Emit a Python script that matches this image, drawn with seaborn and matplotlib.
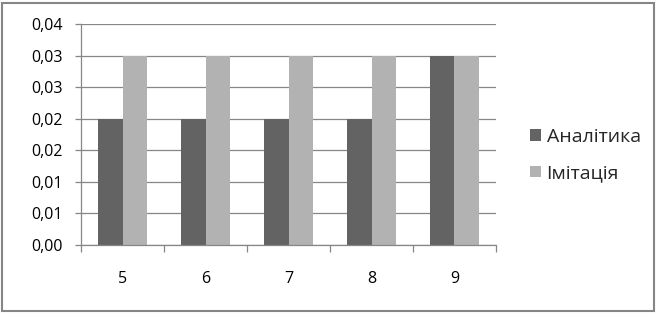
import matplotlib
matplotlib.use("Agg")
import matplotlib.pyplot as plt
import seaborn as sns
import pandas as pd
import numpy as np
from matplotlib.patches import Rectangle

categories = ["5", "6", "7", "8", "9"]
analytics = [0.02, 0.02, 0.02, 0.02, 0.03]
imitation = [0.03, 0.03, 0.03, 0.03, 0.03]
series_names = ["Аналітика", "Імітація"]
y_ticks = [0.0, 0.005, 0.01, 0.015, 0.02, 0.025, 0.03, 0.035]
y_tick_labels = ["0,00", "0,01", "0,01", "0,02", "0,02", "0,03", "0,03", "0,04"]

df = pd.DataFrame({
    "cat": categories * 2,
    "value": analytics + imitation,
    "series": [series_names[0]] * len(categories) + [series_names[1]] * len(categories),
})

sns.set_theme(style="white")
plt.rcParams["font.family"] = ["Open Sans", "DejaVu Sans"]

fig = plt.figure(figsize=(6.56, 3.13), dpi=100)
ax = fig.add_axes([81 / 656, 68 / 313, 415 / 656, 221 / 313])

palette = {series_names[0]: "#636363", series_names[1]: "#b2b2b2"}
sns.barplot(data=df, x="cat", y="value", hue="series", palette=palette,
            width=0.58, dodge=True, saturation=1, ax=ax, legend=True,
            edgecolor="none", linewidth=0, errorbar=None)

ax.set_ylim(0, 0.035)
ax.set_xlim(-0.5, len(categories) - 0.5)
ax.set_yticks(y_ticks)
ax.set_yticklabels(y_tick_labels)
ax.set_xlabel("")
ax.set_ylabel("")
ax.set_axisbelow(True)
ax.yaxis.grid(True, color="#868686", linewidth=0.9)
ax.xaxis.grid(False)

for s in ["top", "right"]:
    ax.spines[s].set_visible(False)
for s in ["left", "bottom"]:
    ax.spines[s].set_visible(True)
    ax.spines[s].set_color("#868686")
    ax.spines[s].set_linewidth(0.9)

ax.tick_params(axis="y", which="major", length=4.3, width=0.9, color="#868686",
               labelsize=11.5, labelcolor="#000000", pad=8.5, left=True)
ax.tick_params(axis="x", which="major", length=0, labelsize=11.5,
               labelcolor="#000000", pad=19)
ax.set_xticks(np.arange(-0.5, len(categories), 1.0), minor=True)
ax.tick_params(axis="x", which="minor", length=5, width=0.9, color="#868686",
               bottom=True)

handles, labels = ax.get_legend_handles_labels()
ax.legend(handles, labels, loc="center left", bbox_to_anchor=(530 / 656, 158 / 313),
          bbox_transform=fig.transFigure, frameon=False, fontsize=14,
          handlelength=0.55, handleheight=0.55, handletextpad=0.3,
          labelspacing=0.95, borderpad=0, borderaxespad=0)

fig.patches.append(Rectangle((2 / 656, 2 / 313), 652 / 656, 308 / 313,
                             transform=fig.transFigure, fill=False,
                             edgecolor="#868686", linewidth=1.5))

fig.savefig("out.png", dpi=100)
